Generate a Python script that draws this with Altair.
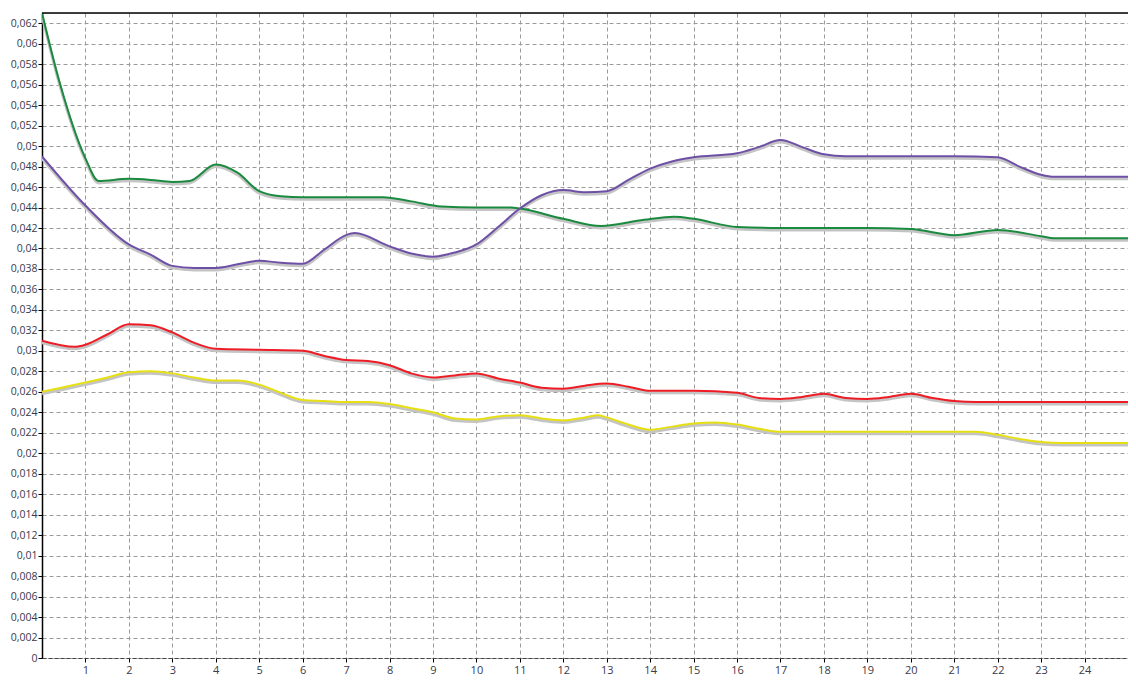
import altair as alt
import pandas as pd

# ---- data ----
green_x = [0, 0.4, 1, 1.3, 2, 2.5, 3, 3.4, 4, 4.5, 5, 5.5, 6, 7, 7.85, 8.5, 9.2, 10, 10.8, 11, 12, 12.87, 13.86, 14.55, 15, 16, 17, 18, 19, 20, 21, 22, 23, 23.3, 24, 25]
green_y = [0.0630, 0.0563, 0.0488, 0.0466, 0.0468, 0.0467, 0.0465, 0.0466, 0.0482, 0.0474, 0.0456, 0.0451, 0.0450, 0.0450, 0.0450, 0.0446, 0.0441, 0.0440, 0.0440, 0.0439, 0.0429, 0.0422, 0.0428, 0.0431, 0.0429, 0.0421, 0.0420, 0.0420, 0.0420, 0.0419, 0.0413, 0.0418, 0.0412, 0.0410, 0.0410, 0.0410]

purple_x = [0, 1, 2, 2.5, 3, 3.5, 4, 5, 5.5, 6, 6.5, 7, 7.2, 8, 8.5, 9, 9.5, 10, 10.5, 11, 11.5, 12, 12.5, 13, 13.5, 14, 14.5, 15, 16, 16.5, 17, 17.5, 18, 18.5, 19, 20, 21, 22, 22.5, 23, 23.3, 24, 25]
purple_y = [0.0490, 0.0442, 0.0404, 0.0394, 0.0383, 0.0381, 0.0381, 0.0388, 0.0386, 0.0385, 0.0399, 0.0413, 0.0415, 0.0402, 0.0395, 0.0392, 0.0396, 0.0404, 0.0421, 0.0439, 0.0452, 0.0457, 0.0455, 0.0456, 0.0467, 0.0478, 0.0485, 0.0489, 0.0493, 0.0499, 0.0506, 0.0499, 0.0492, 0.0490, 0.0490, 0.0490, 0.0490, 0.0489, 0.0480, 0.0472, 0.0470, 0.0470, 0.0470]

red_x = [0, 0.75, 1, 1.5, 2, 2.5, 3, 3.5, 4, 5, 6, 6.5, 7, 7.5, 8, 8.5, 9, 9.5, 10, 10.5, 11, 11.5, 12, 12.5, 13, 13.5, 14, 15, 16, 16.5, 17, 17.5, 18, 18.5, 19, 19.5, 20, 20.5, 21, 21.5, 22, 25]
red_y = [0.0310, 0.0304, 0.0306, 0.0316, 0.0326, 0.0325, 0.0318, 0.0308, 0.0302, 0.0301, 0.0300, 0.0295, 0.0291, 0.0290, 0.0286, 0.0278, 0.0274, 0.0276, 0.0278, 0.0273, 0.0269, 0.0264, 0.0263, 0.0266, 0.0268, 0.0265, 0.0261, 0.0261, 0.0259, 0.0254, 0.0253, 0.0255, 0.0258, 0.0254, 0.0253, 0.0255, 0.0258, 0.0254, 0.0251, 0.0250, 0.0250, 0.0250]

yellow_x = [0, 1, 1.5, 2, 2.5, 3, 3.5, 4, 4.5, 5, 5.5, 6, 6.5, 7, 7.5, 8, 8.5, 9, 9.5, 10, 10.5, 11, 11.5, 12, 12.5, 12.8, 13, 13.5, 14, 14.5, 15, 15.5, 16, 16.5, 17, 18, 19, 20, 21, 21.5, 22, 22.5, 23, 23.5, 24, 25]
yellow_y = [0.0260, 0.0269, 0.0274, 0.0279, 0.0280, 0.0278, 0.0274, 0.0271, 0.0271, 0.0267, 0.0259, 0.0252, 0.0251, 0.0250, 0.0250, 0.0248, 0.0244, 0.0240, 0.0234, 0.0233, 0.0236, 0.0237, 0.0234, 0.0232, 0.0235, 0.0237, 0.0235, 0.0228, 0.0223, 0.0226, 0.0229, 0.0230, 0.0228, 0.0224, 0.0221, 0.0221, 0.0221, 0.0221, 0.0221, 0.0221, 0.0218, 0.0214, 0.0211, 0.0210, 0.0210, 0.0210]

series_names = ["green", "purple", "red", "yellow"]
series_colors = ["#1a8a3e", "#6e4fa6", "#ee1c25", "#e6df12"]

x_ticks = list(range(1, 25))
y_ticks = [round(i * 0.002, 3) for i in range(32)]

rows = []
for name, xs, ys in [("green", green_x, green_y), ("purple", purple_x, purple_y),
                     ("red", red_x, red_y), ("yellow", yellow_x, yellow_y)]:
    for a, b in zip(xs, ys):
        rows.append({"series": name, "x": a, "y": b})
df = pd.DataFrame(rows)

W, H = 1086, 645
FONT = "Open Sans"

x_scale = alt.Scale(domain=[0, 25], nice=False, zero=False)
y_scale = alt.Scale(domain=[0, 0.063], nice=False, zero=True)

x_axis = alt.Axis(
    values=x_ticks, tickCount=60, title=None, grid=True, gridDash=[4, 3], gridColor="#9a9a9a",
    gridOpacity=1, domainColor="#444444", domainDash=[4, 2], tickColor="#000000",
    tickSize=4, labelFont=FONT, labelFontSize=11, labelColor="#3a3a4a", labelPadding=2,
    format="d", labelOverlap=False,
)
y_axis = alt.Axis(
    values=y_ticks, tickCount=60, title=None, grid=True, gridDash=[4, 3], gridColor="#9a9a9a",
    gridOpacity=1, domainColor="#000000", domainWidth=1.5, tickColor="#000000",
    tickSize=4, labelFont=FONT, labelFontSize=10.5, labelColor="#3a3a4a", labelPadding=1,
    labelOverlap=False,
    labelExpr="replace(format(datum.value, '.3~f'), '.', ',')",
)

color = alt.Color("series:N", scale=alt.Scale(domain=series_names, range=series_colors), legend=None)

base = alt.Chart(df)

shadow = base.mark_line(interpolate="monotone", color="#c4c4c4", strokeWidth=3, yOffset=2, clip=True).encode(
    x=alt.X("x:Q", scale=x_scale, axis=x_axis),
    y=alt.Y("y:Q", scale=y_scale, axis=y_axis),
    detail="series:N",
)

lines = base.mark_line(interpolate="monotone", strokeWidth=2, clip=True).encode(
    x=alt.X("x:Q", scale=x_scale),
    y=alt.Y("y:Q", scale=y_scale),
    color=color,
)

top_rule = alt.Chart(pd.DataFrame({"a": [0]})).mark_rule(color="#000000", strokeWidth=1.5).encode(
    x=alt.value(0), x2=alt.value(W), y=alt.value(0)
)

chart = alt.layer(shadow, lines, top_rule).properties(
    width=W, height=H,
    autosize=alt.AutoSizeParams(type="none"),
    padding={"left": 34, "top": 5, "right": 0, "bottom": 22},
).configure_view(stroke=None).configure(background="white")

chart.save("out.html", embed_options={"renderer": "svg", "actions": False})
